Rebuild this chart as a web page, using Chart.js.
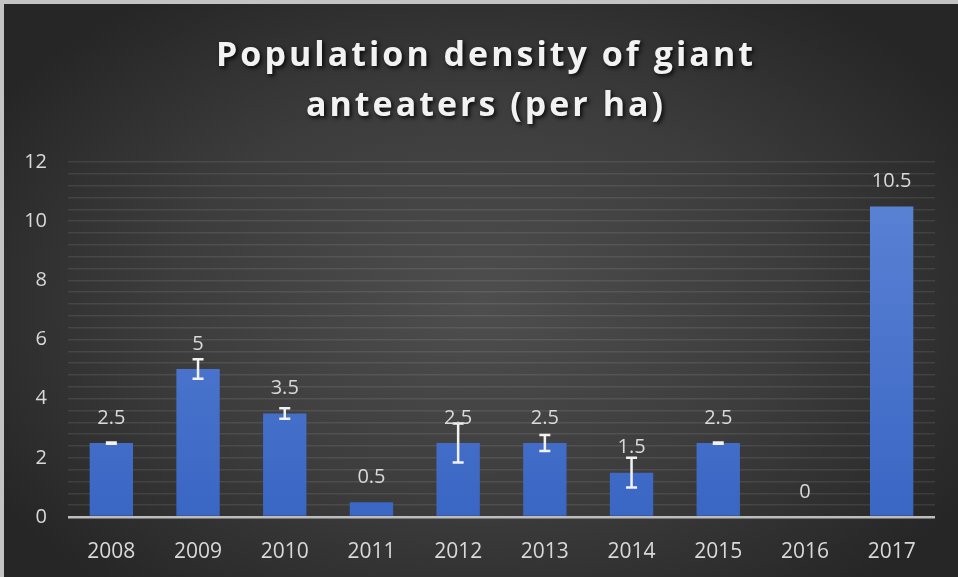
<!DOCTYPE html>
<html lang="en">
<head>
  <meta charset="UTF-8">
  <title>Population density of giant anteaters</title>
  <script src="https://cdn.jsdelivr.net/npm/chart.js"></script>
  <style>
    html, body { margin: 0; padding: 0; background: #c4c4c4; overflow: hidden; }
    #wrap {
      position: absolute; left: 4px; top: 4px; width: 954px; height: 573px;
      background: radial-gradient(ellipse 60% 65% at 50% 52%, #4e4e4e 0%, #3c3c3c 55%, #262626 100%);
    }
  </style>
</head>
<body>
  <div id="wrap"><canvas id="chart" width="954" height="573"></canvas></div>

  <script>
    const years = ['2008', '2009', '2010', '2011', '2012', '2013', '2014', '2015', '2016', '2017'];
    const density = [2.5, 5, 3.5, 0.5, 2.5, 2.5, 1.5, 2.5, 0, 10.5];
    const errors = [0.02, 0.33, 0.18, 0, 0.66, 0.27, 0.5, 0.02, 0, 0];
    const titleLines = ['Population density of giant', 'anteaters (per ha)'];

    const textColor = '#d9d9d9';
    const font = 'Open Sans';

    // title with drop shadow, drawn in the top padding
    const titlePlugin = {
      id: 'shadowTitle',
      afterDraw(chart) {
        const c = chart.ctx;
        c.save();
        c.font = 'bold 34px "' + font + '"';
        c.letterSpacing = '3px';
        c.fillStyle = '#f2f2f2';
        c.textAlign = 'center';
        c.textBaseline = 'middle';
        c.shadowColor = 'rgba(0,0,0,0.85)';
        c.shadowBlur = 4;
        c.shadowOffsetX = 2;
        c.shadowOffsetY = 2;
        titleLines.forEach((t, i) => c.fillText(t, 482, 52 + i * 50));
        c.restore();
      }
    };

    // error bars + value labels
    const barExtras = {
      id: 'barExtras',
      afterDatasetsDraw(chart) {
        const c = chart.ctx;
        const y = chart.scales.y;
        const meta = chart.getDatasetMeta(0);
        c.save();
        meta.data.forEach((bar, i) => {
          const v = density[i];
          const e = errors[i];
          if (e > 0) {
            const top = y.getPixelForValue(v + e);
            const bot = y.getPixelForValue(v - e);
            c.strokeStyle = '#f2f2f2';
            c.lineWidth = 2.5;
            c.beginPath();
            c.moveTo(bar.x, top); c.lineTo(bar.x, bot);
            c.moveTo(bar.x - 5.5, top); c.lineTo(bar.x + 5.5, top);
            c.moveTo(bar.x - 5.5, bot); c.lineTo(bar.x + 5.5, bot);
            c.stroke();
          }
        });
        c.font = '20px "' + font + '"';
        c.fillStyle = textColor;
        c.textAlign = 'center';
        c.textBaseline = 'middle';
        meta.data.forEach((bar, i) => {
          c.fillText(String(density[i]), bar.x, y.getPixelForValue(density[i]) - 25);
        });
        c.restore();
      }
    };

    const ctx = document.getElementById('chart').getContext('2d');

    new Chart(ctx, {
      type: 'bar',
      data: {
        labels: years,
        datasets: [{
          data: density,
          backgroundColor: (context) => {
            const area = context.chart.chartArea;
            if (!area) return '#4472c4';
            const g = context.chart.ctx.createLinearGradient(0, area.top, 0, area.bottom);
            g.addColorStop(0, '#5d85d6');
            g.addColorStop(1, '#3a66c4');
            return g;
          },
          barPercentage: 0.5,
          categoryPercentage: 1
        }]
      },
      options: {
        responsive: false,
        animation: false,
        layout: { padding: { top: 158, right: 23, left: 0, bottom: 0 } },
        plugins: {
          legend: { display: false },
          tooltip: { enabled: false }
        },
        scales: {
          x: {
            grid: { display: false },
            border: { display: false },
            ticks: { color: textColor, font: { family: font, size: 21 }, padding: 14 },
            afterFit: (s) => { s.height = 60; }
          },
          y: {
            min: 0,
            max: 12,
            border: { display: false },
            grid: {
              drawTicks: false,
              lineWidth: (c) => (c.tick && c.tick.value === 0 ? 2.5 : 1.5),
              color: (c) => (c.tick && c.tick.value === 0 ? '#bdbdbd' : 'rgba(255,255,255,0.09)')
            },
            ticks: {
              stepSize: 0.4,
              autoSkip: false,
              padding: 21,
              color: textColor,
              font: { family: font, size: 20 },
              callback: (v) => {
                const r = v / 2;
                return Math.abs(r - Math.round(r)) < 1e-6 ? String(Math.round(v)) : '';
              }
            },
            afterFit: (s) => { s.width = 64; }
          }
        }
      },
      plugins: [titlePlugin, barExtras]
    });
  </script>
</body>
</html>
